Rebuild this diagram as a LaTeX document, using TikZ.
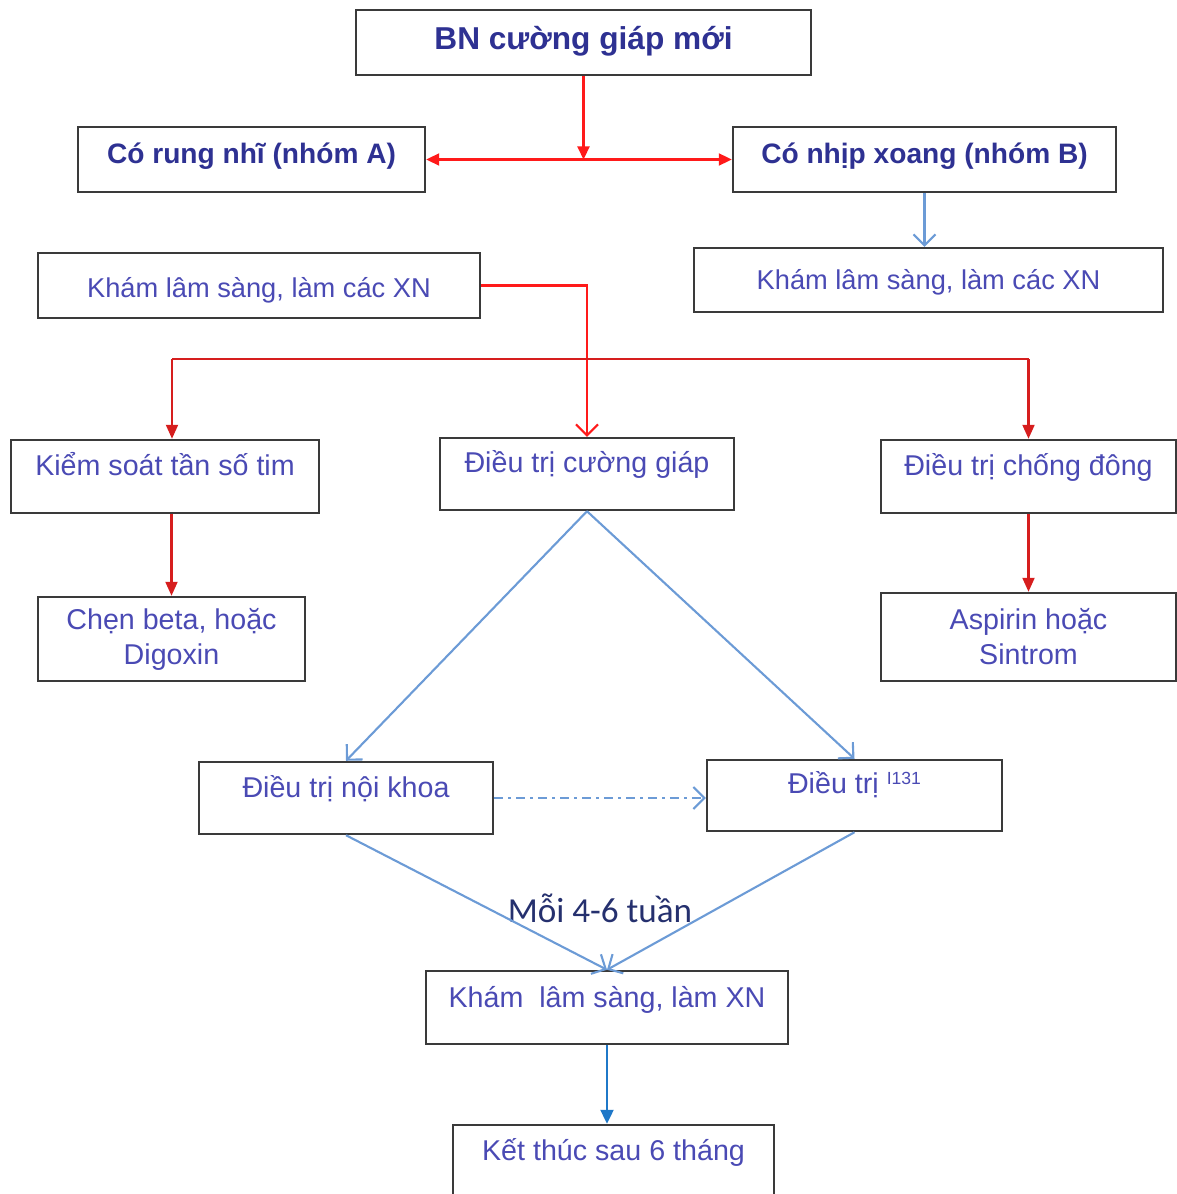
\documentclass[tikz,border=0pt]{standalone}
\usepackage{fontspec}
\setmainfont{Liberation Sans}
\newfontfamily\notefont{Carlito}
\usetikzlibrary{arrows.meta,positioning}

\definecolor{boxgray}{HTML}{3A3A3A}
\definecolor{darkblue}{HTML}{2E3192}
\definecolor{txtblue}{HTML}{4A4AB4}
\definecolor{lineblue}{HTML}{6C9BD6}
\definecolor{deepblue}{HTML}{1F78C8}
\definecolor{brightred}{HTML}{FF1A1A}
\definecolor{darkred}{HTML}{D61E1E}
\definecolor{navy}{HTML}{25306E}

\begin{document}
\begin{tikzpicture}[
    x=0.2mm,y=-0.2mm,
    box/.style={draw=boxgray,line width=1.4pt,inner sep=0pt,minimum height=0pt,
      align=center,text=txtblue,font=\fontsize{16.3}{20}\selectfont},
    tb/.style 2 args={text height=#1,text depth=#2},
    redarrow/.style={-{Triangle[length=2.6mm,width=2.4mm]},draw=brightred,line width=1.25pt},
    darkarrow/.style={-{Triangle[length=2.8mm,width=2.4mm]},draw=darkred,line width=1.2pt},
    redopen/.style={-{Straight Barb[length=2.2mm,width=4.4mm]},draw=brightred,line width=1.2pt},
    bluearrow/.style={-{Straight Barb[length=2.2mm,width=4.4mm]},draw=lineblue,line width=1.2pt},
    endarrow/.style={-{Triangle[length=2.8mm,width=2.6mm]},draw=deepblue,line width=1.3pt}
  ]
    \useasboundingbox (0,0) rectangle (1177,1194);

    \node[box,minimum width=91mm,tb={8mm}{5mm},text=darkblue,
      font=\fontsize{18}{22}\selectfont\bfseries] (start) at (583.5,42.5) {BN cường giáp mới};
    \node[box,minimum width=69.4mm,tb={7.3mm}{5.7mm},text=darkblue,
      font=\fontsize{16}{20}\selectfont\bfseries] (grpA) at (251.5,159.5) {Có rung nhĩ (nhóm A)};
    \node[box,minimum width=76.6mm,tb={7.3mm}{5.7mm},text=darkblue,
      font=\fontsize{16}{20}\selectfont\bfseries] (grpB) at (924.5,159.5) {Có nhịp xoang (nhóm B)};
    \node[box,minimum width=88.4mm,tb={8.8mm}{4.2mm},font=\fontsize{15.5}{20}\selectfont] (khamA) at (259,285.5) {Khám lâm sàng, làm các XN};
    \node[box,minimum width=93.8mm,tb={8.4mm}{4.4mm},font=\fontsize{15.5}{20}\selectfont] (khamB) at (928.5,280) {Khám lâm sàng, làm các XN};

    \node[box,minimum width=61.6mm,tb={7mm}{7.6mm}] (rate) at (165,476.5) {Kiểm soát tần số tim};
    \node[box,minimum width=58.8mm,tb={6.8mm}{7.6mm}] (thyro) at (587,474) {Điều trị cường giáp};
    \node[box,minimum width=59mm,tb={7mm}{7.6mm}] (anticoag) at (1028.5,476.5) {Điều trị chống đông};
    \node[box,minimum width=53.4mm,minimum height=16.8mm] (beta) at (171.5,639) {Chẹn beta, hoặc\\Digoxin};
    \node[box,minimum width=59mm,minimum height=17.6mm] (aspirin) at (1028.5,637) {Aspirin hoặc\\Sintrom};

    \node[box,minimum width=58.8mm,tb={7mm}{7.4mm}] (medical) at (346,798) {Điều trị nội khoa};
    \node[box,minimum width=59mm,tb={6.6mm}{7.6mm}] (iodine) at (854.5,795.5)
      {Điều trị \raisebox{1.8mm}{\fontsize{10}{12}\selectfont I131}};
    \node[box,minimum width=72.4mm,tb={7.2mm}{7.4mm}] (recheck) at (607,1007.5) {Khám\ \ lâm sàng, làm XN};
    \node[box,minimum width=64.2mm,tb={7mm}{9mm}] (finish) at (613.5,1165) {Kết thúc sau 6 tháng};

    \node[text=navy,font=\notefont\fontsize{20}{24}\selectfont,inner sep=0pt] (interval) at (600,908) {Mỗi 4-6 tuần};

    % split of the first box
    \coordinate (split) at (start.south |- grpA.east);
    \draw[redarrow] (start.south) -- (split);
    \draw[redarrow,{Triangle[length=2.6mm,width=2.4mm]}-{Triangle[length=2.6mm,width=2.4mm]}] (grpA.east) -- (grpB.west);
    \draw[bluearrow] (grpB.south) -- (grpB.south |- khamB.north);

    % group A work-up
    \draw[redopen] (khamA.east) -| (thyro.north);
    \coordinate (busL) at (172,359);
    \coordinate (busR) at (anticoag.north |- busL);
    \draw[draw=darkred,line width=1.2pt] (busL) -- (busR);
    \draw[darkarrow] (busL) -- (busL |- rate.north);
    \draw[darkarrow] (busR) -- (anticoag.north);
    \draw[darkarrow] (beta.north |- rate.south) -- (beta.north);
    \draw[darkarrow] (anticoag.south) -- (aspirin.north);

    % treatment branches
    \draw[bluearrow] (thyro.south) -- (medical.north);
    \draw[bluearrow] (thyro.south) -- (iodine.north);
    \draw[bluearrow,dash pattern=on 5pt off 3pt on 1.5pt off 3pt] (medical.east) -- (medical.east -| iodine.west);
    \draw[bluearrow] (medical.south) -- (recheck.north);
    \draw[bluearrow] (iodine.south) -- (recheck.north);
    \draw[endarrow] (recheck.south) -- (recheck.south |- finish.north);
  \end{tikzpicture}
\end{document}
